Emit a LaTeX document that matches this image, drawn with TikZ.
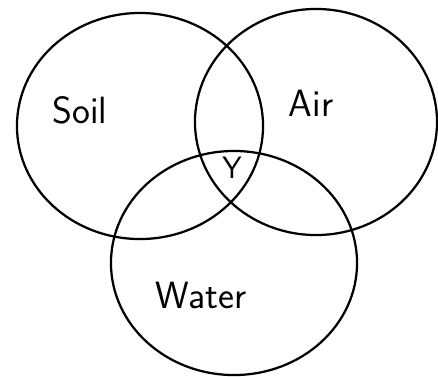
\documentclass[tikz,border=0pt]{standalone}
\usepackage{tikz}
\usetikzlibrary{shapes.geometric}

\begin{document}
\begin{tikzpicture}[x=0.025cm, y=-0.025cm,
    set/.style={draw, ellipse, line width=1.6pt, inner sep=0pt},
    setlabel/.style={font=\sffamily\fontsize{27}{31}\selectfont}]
    \useasboundingbox (0,0) rectangle (438,376);

    % sets
    \node [set, minimum width=6.15cm, minimum height=5.65cm] (soil) at (140,126) {};
    \node [set, minimum width=6.05cm, minimum height=5.65cm] (air) at (316,122) {};
    \node [set, minimum width=6.15cm, minimum height=5.6cm] (water) at (234,263) {};

    % labels
    \node [setlabel] (soiltext) at (80,110) {Soil};
    \node [setlabel] (airtext) at (311,103) {Air};
    \node [setlabel] (watertext) at (201,295) {Water};
    \node [setlabel, font=\sffamily\fontsize{22}{26}\selectfont] (y) at (232,168) {Y};
\end{tikzpicture}
\end{document}
